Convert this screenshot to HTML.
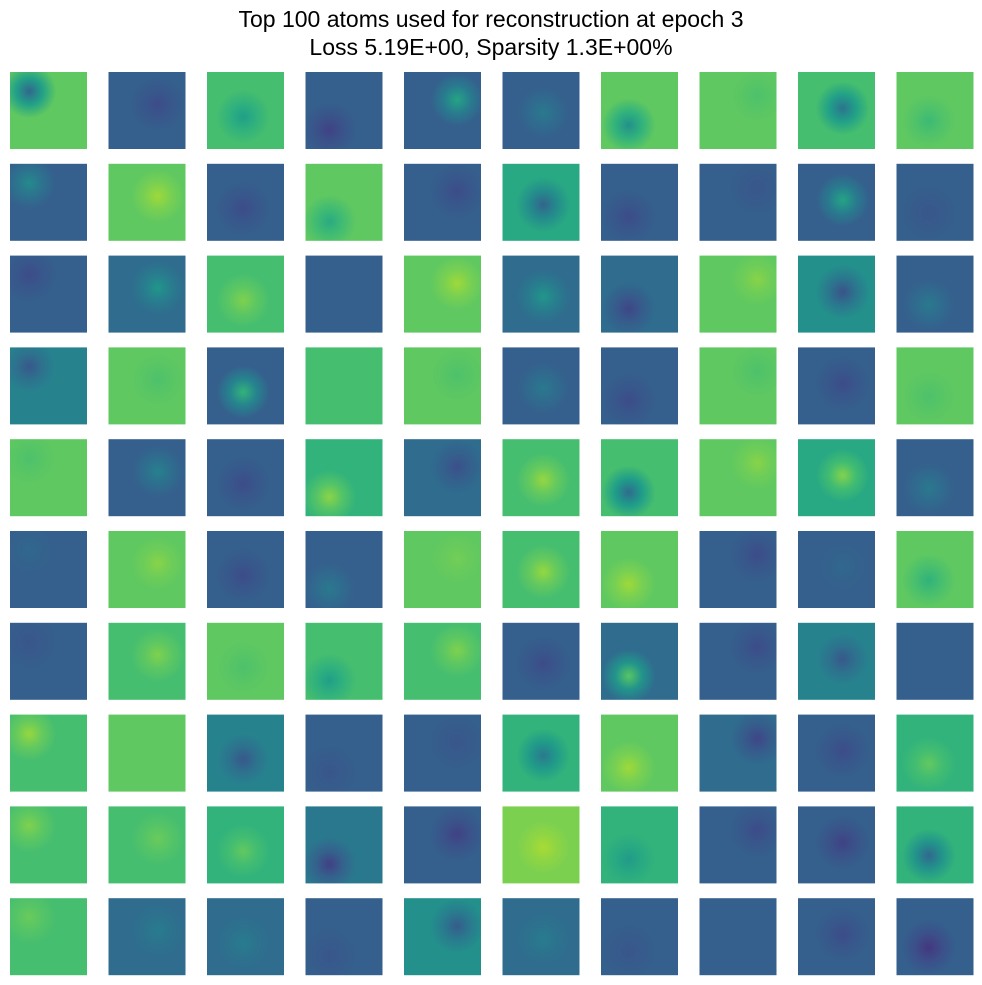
<!DOCTYPE html>
<html><head><meta charset="utf-8">
<style>
body{margin:0;background:#fff;width:982px;height:985px;overflow:hidden;font-family:"Liberation Sans",sans-serif;}
#title{position:absolute;left:0;top:5px;width:982px;text-align:center;font-size:23px;line-height:28px;color:#000;}
</style></head><body>
<div id="title">Top 100 atoms used for reconstruction at epoch 3<br>Loss 5.19E+00, Sparsity 1.3E+00%</div>
<svg id="grid" width="982" height="985" style="position:absolute;left:0;top:0"></svg>
<script>
// mean intensity (viridis scale 0..1) of each atom, row-major
const baseValues = [
.75,.30,.70,.30,.30,.30,.75,.75,.70,.75,
.30,.75,.30,.75,.30,.60,.30,.30,.30,.30,
.30,.35,.70,.30,.75,.35,.35,.75,.50,.30,
.45,.75,.30,.70,.75,.30,.30,.75,.30,.75,
.75,.30,.30,.65,.35,.70,.70,.75,.60,.30,
.30,.75,.30,.30,.75,.70,.75,.30,.30,.75,
.30,.70,.75,.70,.70,.30,.35,.30,.45,.30,
.70,.75,.45,.30,.30,.65,.75,.35,.30,.65,
.70,.70,.65,.40,.30,.80,.65,.30,.30,.65,
.70,.35,.35,.30,.50,.35,.30,.30,.30,.30];
// secondary feature intensity of each atom
const featureValues = [
.15,.20,.50,.15,.70,.45,.40,.70,.25,.65,
.55,.90,.20,.55,.20,.20,.20,.25,.70,.25,
.20,.60,.85,.30,.90,.60,.15,.85,.15,.45,
.20,.70,.80,.70,.70,.45,.20,.70,.20,.70,
.70,.50,.20,.90,.20,.90,.20,.85,.90,.45,
.35,.85,.20,.45,.80,.90,.90,.20,.35,.60,
.25,.85,.70,.50,.85,.20,.90,.20,.20,.30,
.90,.75,.20,.25,.25,.30,.90,.15,.20,.80,
.85,.80,.80,.10,.15,.90,.50,.20,.15,.20,
.80,.45,.45,.25,.20,.45,.25,.30,.20,.10];
const nCols = 10;
const viridis = [[68,1,84],[72,40,120],[62,74,137],[49,104,142],[38,130,142],[31,158,137],[53,183,121],[109,205,89],[180,222,44],[253,231,37]];
function vcol(v){v=Math.max(0,Math.min(1,v));const t=v*9,i=Math.min(8,Math.floor(t)),f=t-i;const a=viridis[i],b=viridis[i+1];
 return `rgb(${Math.round(a[0]+(b[0]-a[0])*f)},${Math.round(a[1]+(b[1]-a[1])*f)},${Math.round(a[2]+(b[2]-a[2])*f)})`;}
const xScale = c => 10 + c*98.5;
const yScale = r => 72 + r*91.8;
const svg = document.getElementById('grid');
const NS='http://www.w3.org/2000/svg';
const defs=document.createElementNS(NS,'defs');svg.appendChild(defs);
baseValues.forEach((v,i)=>{
 const r=Math.floor(i/nCols),c=i%nCols;
 const fv=featureValues[i];
 const g=document.createElementNS(NS,'radialGradient');
 g.setAttribute('id','g'+i);
 g.setAttribute('cx',(0.25+0.5*((i*37)%10)/9).toFixed(2));
 g.setAttribute('cy',(0.25+0.5*((i*53)%10)/9).toFixed(2));
 g.setAttribute('r','0.35');
 g.innerHTML=`<stop offset="0" stop-color="${vcol(v+(fv-v)*0.7)}"/><stop offset="0.5" stop-color="${vcol(v+(fv-v)*0.3)}"/><stop offset="1" stop-color="${vcol(v)}"/>`;
 defs.appendChild(g);
 const rect=document.createElementNS(NS,'rect');
 rect.setAttribute('x',xScale(c));rect.setAttribute('y',yScale(r));
 rect.setAttribute('width',77);rect.setAttribute('height',77);
 rect.setAttribute('fill',`url(#g${i})`);
 
 
 svg.appendChild(rect);
});
</script>
</body></html>
